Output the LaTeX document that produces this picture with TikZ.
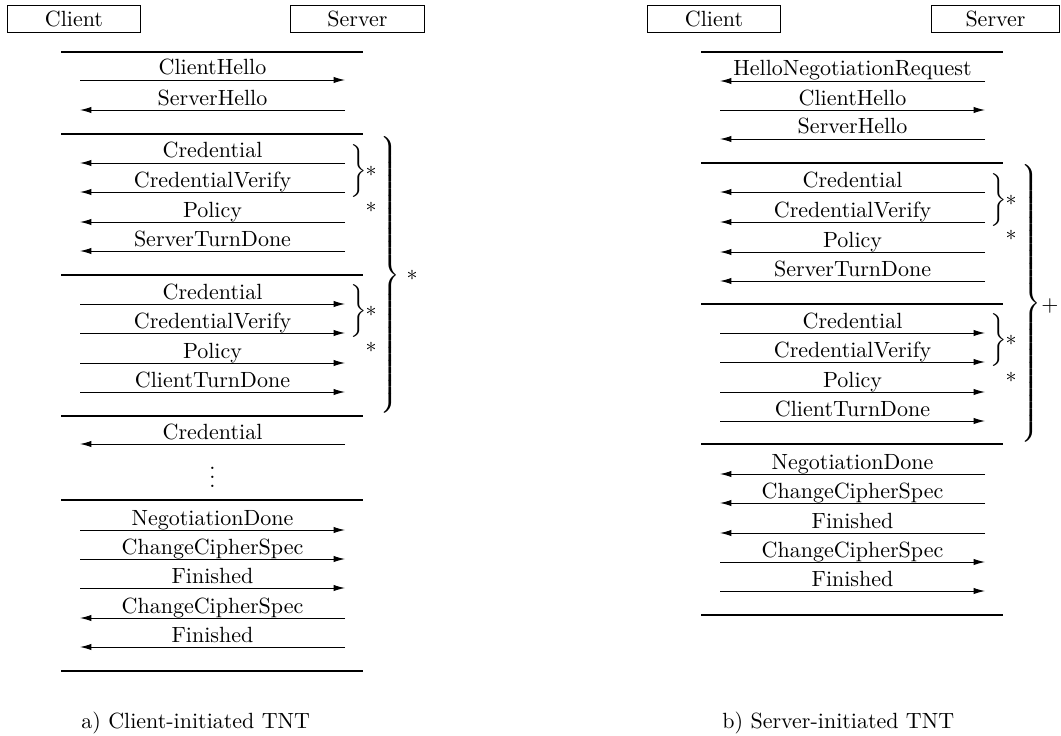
\documentclass[tikz,border=0pt]{standalone}
\usetikzlibrary{arrows.meta}
\begin{document}
\begin{tikzpicture}[x=0.4545pt,y=-0.4545pt,
  sep/.style={line width=0.85pt},
  msg/.style={line width=0.45pt,-{Latex[length=5.2pt,width=2.9pt]}},
  lab/.style={anchor=base,inner sep=0pt},
  party/.style={draw,line width=0.45pt,minimum width=60.5pt,minimum height=12.7pt,inner sep=0pt},
  smallbrace/.style={inner sep=0pt,anchor=west},
  starlab/.style={inner sep=0pt}]
\useasboundingbox (0,0) rectangle (1061,736);

% parties
\node[party] (cA) at (74,19) {Client};
\node[party] (sA) at (357.5,19) {Server};
\node[party] (cB) at (714,19) {Client};
\node[party,minimum width=58.6pt] (sB) at (995.5,19) {Server};

% separators (left)
\foreach \y in {52,134,275,416,500,671} \draw[sep] (61,\y) -- (363,\y);
% separators (right)
\foreach \y in {52,163,304,444,615} \draw[sep] (701,\y) -- (1003,\y);

% messages (left)
\foreach \y/\t/\xs/\xe [count=\i] in {
  80/ClientHello/80/345,
  110/ServerHello/345/80,
  163/Credential/345/80,
  192/CredentialVerify/345/80,
  222/Policy/345/80,
  251/ServerTurnDone/345/80,
  304/Credential/80/345,
  333/CredentialVerify/80/345,
  363/Policy/80/345,
  392/ClientTurnDone/80/345,
  444/Credential/345/80,
  530/NegotiationDone/80/345,
  559/ChangeCipherSpec/80/345,
  588/Finished/80/345,
  618/ChangeCipherSpec/345/80,
  647/Finished/345/80} {
  \coordinate (aS\i) at (\xs,\y);
  \coordinate (aE\i) at (\xe,\y);
  \draw[msg] (aS\i) -- (aE\i);
  \node[lab] (aT\i) at (212.5,\y-5) {\t};
}

% messages (right)
\foreach \y/\t/\xs/\xe [count=\i] in {
  81/HelloNegotiationRequest/985/720,
  110/ClientHello/720/985,
  139/ServerHello/985/720,
  192/Credential/985/720,
  222/CredentialVerify/985/720,
  252/Policy/985/720,
  281/ServerTurnDone/985/720,
  333/Credential/720/985,
  362/CredentialVerify/720/985,
  392/Policy/720/985,
  421/ClientTurnDone/720/985,
  474/NegotiationDone/985/720,
  503/ChangeCipherSpec/985/720,
  533/Finished/985/720,
  562/ChangeCipherSpec/720/985,
  591/Finished/720/985} {
  \coordinate (bS\i) at (\xs,\y);
  \coordinate (bE\i) at (\xe,\y);
  \draw[msg] (bS\i) -- (bE\i);
  \node[lab] (bT\i) at (852.5,\y-5) {\t};
}

% dots
\node[inner sep=0pt] (dotsA) at (212.5,471) {$\vdots$};

% small braces and stars (left)
\node[smallbrace] (bA1) at (350,171.5) {$\biggr\}$};
\node[starlab] (sA1) at (371,171) {$*$};
\node[starlab] (sA2) at (371,207) {$*$};
\node[smallbrace] (bA2) at (350,311.5) {$\biggr\}$};
\node[starlab] (sA3) at (371,311) {$*$};
\node[starlab] (sA4) at (371,347) {$*$};
% big brace (left)
\node[smallbrace] (BA) at (377,275) {$\left.\vrule height 67pt depth 62pt width 0pt\right\}$};
\node[starlab] (sA5) at (412,275) {$*$};

% small braces and stars (right)
\node[smallbrace] (bB1) at (990,200.5) {$\biggr\}$};
\node[starlab] (sB1) at (1011,200) {$*$};
\node[starlab] (sB2) at (1011,235) {$*$};
\node[smallbrace] (bB2) at (990,340.5) {$\biggr\}$};
\node[starlab] (sB3) at (1011,340) {$*$};
\node[starlab] (sB4) at (1011,377) {$*$};
% big brace (right)
\node[smallbrace] (BB) at (1018,303.5) {$\left.\vrule height 67pt depth 62pt width 0pt\right\}$};
\node[starlab] (sB5) at (1050,306) {$+$};

% captions
\node[anchor=base west,inner sep=0pt] (capA) at (81,728) {a) Client-initiated TNT};
\node[anchor=base west,inner sep=0pt] (capB) at (722,728) {b) Server-initiated TNT};
\end{tikzpicture}
\end{document}
